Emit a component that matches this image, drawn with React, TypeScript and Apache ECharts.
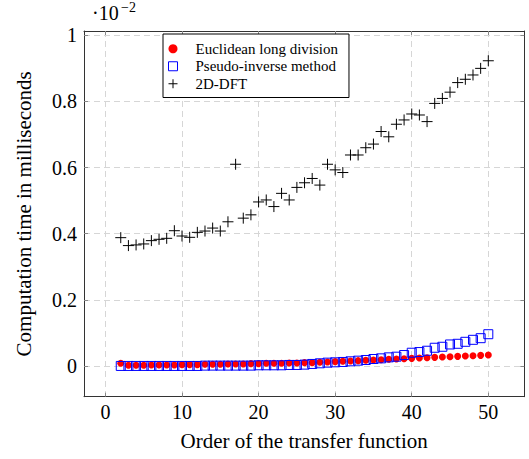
import React, { useEffect, useRef } from "react";
import * as echarts from "echarts";

const orders = [
  2, 3, 4, 5, 6, 7, 8, 9, 10, 11, 12, 13, 14, 15, 16, 17, 18, 19, 20, 21, 22, 23, 24, 25, 26,
  27, 28, 29, 30, 31, 32, 33, 34, 35, 36, 37, 38, 39, 40, 41, 42, 43, 44, 45, 46, 47, 48, 49, 50,
];

const euclidean = [
  0.008, 0.002, 0.002, 0.002, 0.003, 0.003, 0.003, 0.003, 0.004, 0.004, 0.004, 0.005, 0.005,
  0.005, 0.006, 0.006, 0.006, 0.007, 0.007, 0.008, 0.008, 0.008, 0.009, 0.009, 0.01, 0.01,
  0.011, 0.012, 0.013, 0.014, 0.015, 0.016, 0.017, 0.018, 0.019, 0.02, 0.021, 0.022, 0.023,
  0.024, 0.025, 0.026, 0.027, 0.028, 0.029, 0.03, 0.031, 0.032, 0.033,
];

const pseudoInverse = [
  0.0, 0.0, 0.0, 0.0, 0.0, 0.0, 0.0, 0.0, 0.0, 0.0, 0.0, 0.001, 0.001, 0.001, 0.001, 0.001,
  0.001, 0.001, 0.002, 0.002, 0.002, 0.002, 0.003, 0.003, 0.004, 0.006, 0.008, 0.01, 0.011,
  0.012, 0.014, 0.016, 0.018, 0.021, 0.023, 0.026, 0.028, 0.033, 0.04, 0.042, 0.046, 0.055,
  0.058, 0.065, 0.067, 0.073, 0.079, 0.084, 0.096,
];

const dft = [
  0.388, 0.364, 0.366, 0.369, 0.379, 0.383, 0.386, 0.409, 0.393, 0.389, 0.404, 0.408, 0.417,
  0.408, 0.436, 0.61, 0.447, 0.457, 0.496, 0.502, 0.482, 0.522, 0.502, 0.54, 0.554, 0.567,
  0.547, 0.61, 0.593, 0.585, 0.638, 0.638, 0.66, 0.671, 0.709, 0.693, 0.731, 0.744, 0.762,
  0.759, 0.739, 0.794, 0.809, 0.828, 0.857, 0.867, 0.88, 0.9, 0.923,
];

const xTicks = [0, 10, 20, 30, 40, 50];
const yTicks = [0, 0.2, 0.4, 0.6, 0.8, 1];
const seriesNames = ["Euclidean long division", "Pseudo-inverse method", "2D-DFT"];

const FONT = "'Liberation Serif', 'DejaVu Serif', serif";
const PLUS = "path://M0,5L10,5M5,0L5,10";
const SQUARE = "path://M0,0L10,0L10,10L0,10Z";

export default function App() {
  const ref = useRef<HTMLDivElement>(null);

  useEffect(() => {
    if (!ref.current) return;
    const chart = echarts.init(ref.current, undefined, { renderer: "svg" });

    const toPairs = (vals: number[]) => orders.map((o, i) => [o, vals[i]]);

    const frameLine = { show: true, onZero: false, lineStyle: { color: "#333", width: 1 } };
    const tickStyle = { color: "#888", width: 1 };
    const splitStyle = { show: true, lineStyle: { color: "#d6d6d6", type: [6, 4] as any, width: 1 } };

    chart.setOption({
      animation: false,
      grid: { left: 84, right: 4.7, top: 31, bottom: 62.3 },
      graphic: [
        {
          type: "text",
          left: 92,
          top: 3,
          style: { text: "·10", font: `20px ${FONT}`, fill: "#000" },
        },
        {
          type: "text",
          left: 121,
          top: 0,
          style: { text: "−2", font: `14px ${FONT}`, fill: "#000" },
        },
      ],
      legend: {
        orient: "vertical",
        left: 163,
        top: 34,
        backgroundColor: "#fff",
        borderColor: "#000",
        borderWidth: 1,
        borderRadius: 0,
        padding: [6, 11, 5, 5],
        itemWidth: 17,
        itemHeight: 9,
        itemGap: 0,
        symbolKeepAspect: true,
        textStyle: {
          fontFamily: FONT,
          fontSize: 15,
          color: "#000",
          lineHeight: 17.5,
          padding: [0, 0, 0, 9],
        },
        data: [
          { name: seriesNames[0], icon: "circle", itemStyle: { color: "#ff0000", borderWidth: 0 } },
          {
            name: seriesNames[1],
            icon: SQUARE,
            itemStyle: { color: "transparent", borderColor: "#0000ff", borderWidth: 1 },
          },
          {
            name: seriesNames[2],
            icon: PLUS,
            itemStyle: { color: "transparent", borderColor: "#000", borderWidth: 1 },
          },
        ],
      },
      xAxis: [
        {
          type: "value",
          min: -2.8,
          max: 54.7,
          position: "bottom",
          axisLine: frameLine,
          axisTick: { show: true, inside: true, length: 4, customValues: xTicks, lineStyle: tickStyle },
          axisLabel: {
            customValues: xTicks,
            fontFamily: FONT,
            fontSize: 20,
            color: "#000",
            margin: 5,
          },
          splitLine: splitStyle,
          name: "Order of the transfer function",
          nameLocation: "middle",
          nameGap: 34,
          nameTextStyle: { fontFamily: FONT, fontSize: 21, color: "#000" },
        },
        {
          type: "value",
          min: -2.8,
          max: 54.7,
          position: "top",
          axisLine: frameLine,
          axisTick: { show: true, inside: true, length: 4, customValues: xTicks, lineStyle: tickStyle },
          axisLabel: { show: false, customValues: xTicks },
          splitLine: { show: false },
        },
      ],
      yAxis: [
        {
          type: "value",
          min: -0.093,
          max: 1.013,
          position: "left",
          axisLine: frameLine,
          axisTick: { show: true, inside: true, length: 4, customValues: yTicks, lineStyle: tickStyle },
          axisLabel: {
            customValues: yTicks,
            fontFamily: FONT,
            fontSize: 20,
            color: "#000",
            margin: 7,
          },
          splitLine: splitStyle,
          name: "Computation time in milliseconds",
          nameLocation: "middle",
          nameGap: 50,
          nameTextStyle: { fontFamily: FONT, fontSize: 21, color: "#000" },
        },
        {
          type: "value",
          min: -0.093,
          max: 1.013,
          position: "right",
          axisLine: frameLine,
          axisTick: { show: true, inside: true, length: 4, customValues: yTicks, lineStyle: tickStyle },
          axisLabel: { show: false, customValues: yTicks },
          splitLine: { show: false },
        },
      ],
      series: [
        {
          name: seriesNames[0],
          type: "scatter",
          symbol: "circle",
          symbolSize: 7,
          itemStyle: { color: "#ff0000", opacity: 1 },
          data: toPairs(euclidean),
        },
        {
          name: seriesNames[1],
          type: "scatter",
          symbol: "rect",
          symbolSize: 9,
          itemStyle: { color: "transparent", borderColor: "#0000ff", borderWidth: 1, opacity: 1 },
          data: toPairs(pseudoInverse),
        },
        {
          name: seriesNames[2],
          type: "scatter",
          symbol: PLUS,
          symbolSize: 11,
          itemStyle: { color: "transparent", borderColor: "#000000", borderWidth: 1, opacity: 1 },
          data: toPairs(dft),
        },
      ],
    });

    return () => chart.dispose();
  }, []);

  return (
    <div
      ref={ref}
      style={{ position: "absolute", left: 0, top: 0, width: 529, height: 459, background: "#fff" }}
    />
  );
}
